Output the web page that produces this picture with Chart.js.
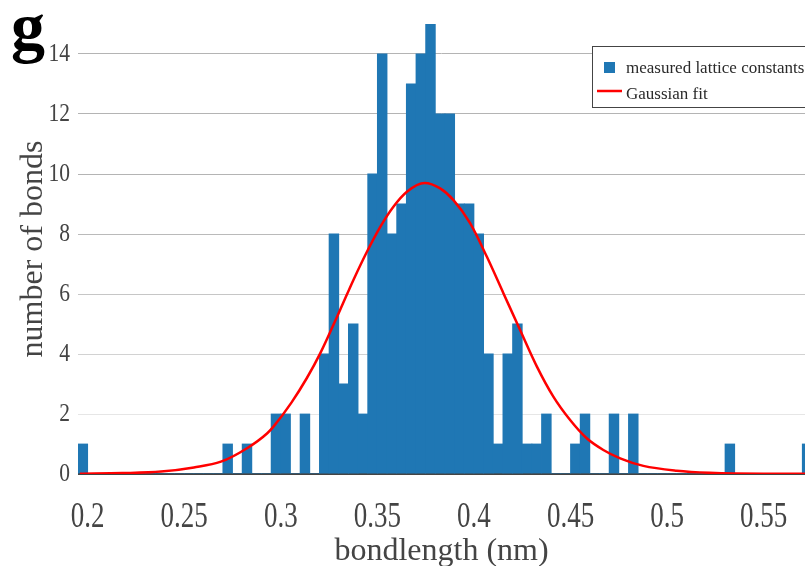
<!DOCTYPE html>
<html><head><meta charset="utf-8">
<script src="https://cdn.jsdelivr.net/npm/chart.js@4.4.1/dist/chart.umd.min.js"></script>
<style>html,body{margin:0;padding:0;background:#fff;overflow:hidden}#wrap{width:805px;height:566px;position:relative}</style>
</head><body><div id="wrap"><canvas id="c" width="805" height="566"></canvas></div>
<script>
// ---------- data ----------
const panelLabel = 'g';
const seriesNames = ['measured lattice constants', 'Gaussian fit'];
const xTitle = 'bondlength (nm)';
const yTitle = 'number of bonds';
// histogram bin centres (nm), bin width 0.005 nm
const binCenters = [
  0.1975,0.2025,0.2075,0.2125,0.2175,0.2225,0.2275,0.2325,0.2375,0.2425,
  0.2475,0.2525,0.2575,0.2625,0.2675,0.2725,0.2775,0.2825,0.2875,0.2925,
  0.2975,0.3025,0.3075,0.3125,0.3175,0.3225,0.3275,0.3325,0.3375,0.3425,
  0.3475,0.3525,0.3575,0.3625,0.3675,0.3725,0.3775,0.3825,0.3875,0.3925,
  0.3975,0.4025,0.4075,0.4125,0.4175,0.4225,0.4275,0.4325,0.4375,0.4425,
  0.4475,0.4525,0.4575,0.4625,0.4675,0.4725,0.4775,0.4825,0.4875,0.4925,
  0.4975,0.5025,0.5075,0.5125,0.5175,0.5225,0.5275,0.5325,0.5375,0.5425,
  0.5475,0.5525,0.5575,0.5625,0.5675,0.5725
];
const binCounts = [
  1,0,0,0,0,0,0,0,0,0,
  0,0,0,0,0,1,0,1,0,0,
  2,2,0,2,0,4,8,3,5,2,
  10,14,8,9,13,14,15,12,12,9,
  9,8,4,1,4,5,1,1,2,0,
  0,1,2,0,0,2,0,2,0,0,
  0,0,0,0,0,0,0,1,0,0,
  0,0,0,0,0,1
];
// Gaussian fit curve
const fitX = [0.196,0.218,0.238,0.255,0.269,0.2825,0.293,0.2962,0.3055,0.3135,0.3204,0.3307,0.3376,0.3446,0.3515,0.3583,0.3653,0.3745,0.3825,0.3894,0.398,0.4067,0.4153,0.4239,0.4326,0.4411,0.4498,0.4584,0.467,0.4757,0.4877,0.505,0.522,0.55,0.575];
const fitY = [0.01,0.03,0.08,0.22,0.41,0.86,1.36,1.58,2.38,3.2,4.02,5.47,6.47,7.41,8.24,8.91,9.41,9.7,9.52,9.13,8.36,7.24,6.02,4.8,3.58,2.58,1.8,1.19,0.8,0.52,0.27,0.11,0.04,0.01,0.01];
const xTickValues = [0.2,0.25,0.3,0.35,0.4,0.45,0.5,0.55];
const yTickValues = [0,2,4,6,8,10,12,14];

// ---------- styling ----------
const SERIF = "'Liberation Serif','Times New Roman',serif";
const BAR_COLOR = '#1f77b4';
const FIT_COLOR = '#ff0000';
const gridColors = {0:'#444444',2:'#e6e6e6',4:'#d2d2d2',6:'#c6c6c6',8:'#bababa',10:'#b4b4b4',12:'#b4b4b4',14:'#b4b4b4'};

const histData = binCenters.map((x, i) => ({x: x, y: binCounts[i]}));
const fitData = fitX.map((x, i) => ({x: x, y: fitY[i]}));

// tick labels in the reference are drawn taller/narrower than plain Times:
// apply a one-axis scale around the label line while Chart.js draws them.
function stretchLabels(scale, sx, sy, dy) {
  if (scale._stretched) return;
  scale._stretched = true;
  const orig = scale.drawLabels;
  scale.drawLabels = function (area) {
    const ctx = this.ctx;
    const items = this.getLabelItems(area);
    ctx.save();
    if (items.length) {
      const it = items[0];
      const tr = it.options.translation;
      const px = tr[0];
      const py = tr[1] + (it.textOffset || 0);
      ctx.translate(sx !== 1 ? px : 0, (sy !== 1 ? py : 0) + (dy || 0));
      ctx.scale(sx, sy);
      ctx.translate(sx !== 1 ? -px : 0, sy !== 1 ? -py : 0);
    }
    orig.call(this, area);
    ctx.restore();
  };
}

const decorPlugin = {
  id: 'decor',
  afterDraw(chart) {
    const ctx = chart.ctx;
    ctx.save();
    // panel label
    ctx.fillStyle = '#000';
    ctx.font = "bold 68px " + SERIF;
    ctx.textBaseline = 'alphabetic';
    ctx.textAlign = 'left';
    ctx.fillText(panelLabel, 11, 50);
    // legend box
    ctx.fillStyle = '#fff';
    ctx.fillRect(593, 47, 240, 61);
    ctx.strokeStyle = '#444';
    ctx.lineWidth = 1;
    ctx.strokeRect(592.5, 46.5, 240, 61);
    ctx.fillStyle = BAR_COLOR;
    ctx.fillRect(604, 62, 11, 11);
    ctx.strokeStyle = FIT_COLOR;
    ctx.lineWidth = 2.5;
    ctx.beginPath(); ctx.moveTo(597, 91); ctx.lineTo(622, 91); ctx.stroke();
    ctx.fillStyle = '#2a2a2a';
    ctx.font = "17px " + SERIF;
    ctx.fillText(chart.data.datasets[1].label, 626, 73);
    ctx.fillText(chart.data.datasets[0].label, 626, 99);
    ctx.restore();
  }
};

new Chart(document.getElementById('c'), {
  type: 'bar',
  data: {
    datasets: [
      {
        type: 'line', label: seriesNames[1], data: fitData,
        borderColor: FIT_COLOR, borderWidth: 2.5, pointRadius: 0,
        cubicInterpolationMode: 'monotone', fill: false, order: 0
      },
      {
        type: 'bar', label: seriesNames[0], data: histData,
        backgroundColor: BAR_COLOR, borderWidth: 0,
        barPercentage: 1, categoryPercentage: 1, inflateAmount: 0.4, order: 1
      }
    ]
  },
  options: {
    responsive: false, animation: false, devicePixelRatio: 1,
    layout: {padding: {top: 24, left: 0, right: 0, bottom: 0}},
    plugins: {legend: {display: false}, tooltip: {enabled: false}},
    scales: {
      x: {
        type: 'linear', min: 0.195, max: 0.5714, offset: false,
        grid: {display: false, drawTicks: false}, border: {display: false},
        afterBuildTicks: (s) => { s.ticks = xTickValues.map(v => ({value: v})); },
        afterFit: (s) => { s.height = 92; s.paddingLeft = 0; s.paddingRight = 0; stretchLabels(s, 1, 1.3, 0); },
        ticks: {
          autoSkip: false, maxRotation: 0, padding: 28, color: '#444',
          font: {family: SERIF, size: 27},
          callback: (v) => String(v)
        },
        title: {display: true, text: xTitle, color: '#444', font: {family: SERIF, size: 32, lineHeight: 0.92}, padding: {top: 0, bottom: 0}}
      },
      y: {
        type: 'linear', min: 0, max: 15,
        grid: {
          drawTicks: false,
          color: (c) => gridColors[c.tick ? c.tick.value : 2] || '#bbb',
          lineWidth: (c) => (c.tick && c.tick.value === 0) ? 2 : 1
        },
        border: {display: false},
        afterBuildTicks: (s) => { s.ticks = yTickValues.map(v => ({value: v})); },
        afterFit: (s) => { s.width = 78; s.paddingTop = 0; s.paddingBottom = 0; stretchLabels(s, 0.86, 1, 0); },
        ticks: {padding: 8, color: '#444', font: {family: SERIF, size: 25}},
        title: {display: true, text: yTitle, color: '#444', font: {family: SERIF, size: 32, lineHeight: 1.1}, padding: {top: 16, bottom: 0}}
      }
    }
  },
  plugins: [decorPlugin]
});
</script></body></html>
